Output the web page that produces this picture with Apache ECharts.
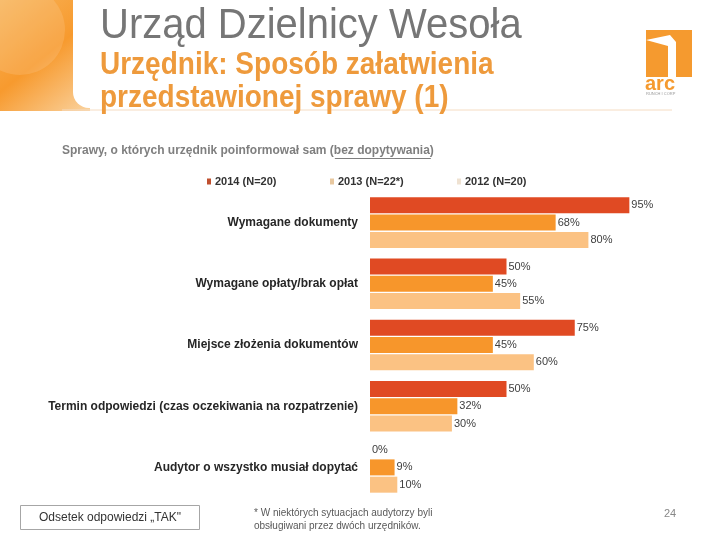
<!DOCTYPE html>
<html><head><meta charset="utf-8">
<script src="https://cdn.jsdelivr.net/npm/echarts@6/dist/echarts.min.js"></script>
<style>html,body{margin:0;padding:0;background:#fff}#c{width:720px;height:540px}</style>
</head><body><div id="c"></div>
<script>
const categories = [
  'Wymagane dokumenty',
  'Wymagane opłaty/brak opłat',
  'Miejsce złożenia dokumentów',
  'Termin odpowiedzi (czas oczekiwania na rozpatrzenie)',
  'Audytor o wszystko musiał dopytać'
];
const seriesNames = ['2014 (N=20)', '2013 (N=22*)', '2012 (N=20)'];
const values2014 = [95, 50, 75, 50, 0];
const values2013 = [68, 45, 45, 32, 9];
const values2012 = [80, 55, 60, 30, 10];
const colors = ['#E04A23', '#F7962B', '#FBC283'];
const legendMarker = ['#C0502F', '#E8C8A0', '#EFE2D2'];

const FONT = '"Liberation Sans", Arial, sans-serif';
const chart = echarts.init(document.getElementById('c'), null, {renderer: 'canvas'});

// measure text for underline
const cv = document.createElement('canvas').getContext('2d');
cv.font = 'bold 12px "Liberation Sans", Arial, sans-serif';
const subPre = 'Sprawy, o których urzędnik poinformował sam (';
const subUl = 'bez dopytywania';
const subFull = subPre + subUl + ')';
const subX = 62;
const ulStart = subX + cv.measureText(subPre).width;
const ulEnd = ulStart + cv.measureText(subUl).width;

const allValues = [values2014, values2013, values2012];
const series = allValues.map((vals, i) => ({
  name: seriesNames[i],
  type: 'bar',
  data: vals,
  barWidth: 16,
  barGap: '8%',
  itemStyle: {color: colors[i]},
  label: {
    show: true, position: 'right', distance: 2,
    formatter: '{c}%', color: '#404040', fontSize: 11, fontFamily: FONT
  },
  silent: true
}));

const legendLefts = [202, 325, 452];
const legends = seriesNames.map((n, i) => ({
  data: [{name: n, itemStyle: {color: legendMarker[i]}}],
  left: legendLefts[i], top: 171,
  icon: 'rect', itemWidth: 4, itemHeight: 6, itemGap: 0,
  textStyle: {fontSize: 11, fontWeight: 'bold', color: '#333', fontFamily: FONT, padding: [0,0,0,-1]},
  selectedMode: false
}));

chart.setOption({
  animation: false,
  backgroundColor: '#fff',
  legend: legends,
  grid: {left: 370, top: 192, width: 273, height: 306, containLabel: false},
  xAxis: {type: 'value', min: 0, max: 100, show: false},
  yAxis: {
    type: 'category', data: categories, inverse: true,
    axisLine: {show: false}, axisTick: {show: false},
    axisLabel: {margin: 12, fontSize: 12, fontWeight: 'bold', color: '#262626', fontFamily: FONT}
  },
  series: series,
  graphic: [
    {type: 'rect', shape: {x: 0, y: 0, width: 90, height: 112}, z: -10,
     style: {fill: new echarts.graphic.LinearGradient(0, 0, 1, 1, [
       {offset: 0, color: '#F8B45A'}, {offset: 0.5, color: '#F79A2E'}, {offset: 1, color: '#FAD3A0'}])}},
    {type: 'circle', shape: {cx: 20, cy: 30, r: 45}, z: -9, style: {fill: 'rgba(255,255,255,0.12)'}},
    {type: 'rect', shape: {x: 73, y: 0, width: 647, height: 108, r: [0, 0, 0, 16]}, z: -8, style: {fill: '#fff'}},
    {type: 'rect', shape: {x: 0, y: 111, width: 720, height: 429}, z: -8, style: {fill: '#fff'}},
    {type: 'line', shape: {x1: 62, y1: 110, x2: 672, y2: 110}, z: -7, style: {stroke: '#F5DCC2', lineWidth: 1}},
    {type: 'text', left: 100, top: 4, scaleY: 1.08, style: {text: 'Urząd Dzielnicy Wesoła', fill: '#767676', font: '40px ' + FONT}},
    {type: 'text', left: 100, top: 50, scaleY: 1.1, style: {text: 'Urzędnik: Sposób załatwienia', fill: '#EE9A3C', font: 'bold 28px ' + FONT}},
    {type: 'text', left: 100, top: 83, scaleY: 1.1, style: {text: 'przedstawionej sprawy (1)', fill: '#EE9A3C', font: 'bold 28px ' + FONT}},
    // logo
    {type: 'rect', shape: {x: 646, y: 30, width: 46, height: 47}, style: {fill: '#F59A2F'}},
    {type: 'polygon', shape: {points: [[646, 40], [670, 35], [676, 42], [676, 77], [668, 77], [668, 46]]}, style: {fill: '#fff'}},
    {type: 'rect', shape: {x: 646, y: 46, width: 22, height: 31}, style: {fill: '#F59A2F'}},
    {type: 'text', left: 645, top: 74, style: {text: 'arc', fill: '#F59A2F', font: 'bold 20px ' + FONT}},
    {type: 'text', left: 646, top: 92, style: {text: 'RUNCH I CORP', fill: '#999', font: '4px ' + FONT}},
    // subtitle
    {type: 'text', left: subX, top: 145, style: {text: subFull, fill: '#7F7F7F', font: 'bold 12px ' + FONT}},
    {type: 'line', shape: {x1: ulStart + 1, y1: 158.5, x2: ulEnd + 1, y2: 158.5}, style: {stroke: '#7F7F7F', lineWidth: 1}},
    // bottom box
    {type: 'rect', shape: {x: 20.5, y: 505.5, width: 179, height: 24}, style: {fill: '#fff', stroke: '#A6A6A6', lineWidth: 1}},
    {type: 'text', x: 110, y: 518, style: {text: 'Odsetek odpowiedzi „TAK"', fill: '#333', font: '12px ' + FONT, textAlign: 'center', textVerticalAlign: 'middle'}},
    {type: 'text', left: 254, top: 507, style: {text: '* W niektórych sytuacjach audytorzy byli\nobsługiwani przez dwóch urzędników.', fill: '#595959', font: '10px ' + FONT, lineHeight: 13}},
    {type: 'text', left: 664, top: 508, style: {text: '24', fill: '#888', font: '11px ' + FONT}}
  ]
});
</script></body></html>
